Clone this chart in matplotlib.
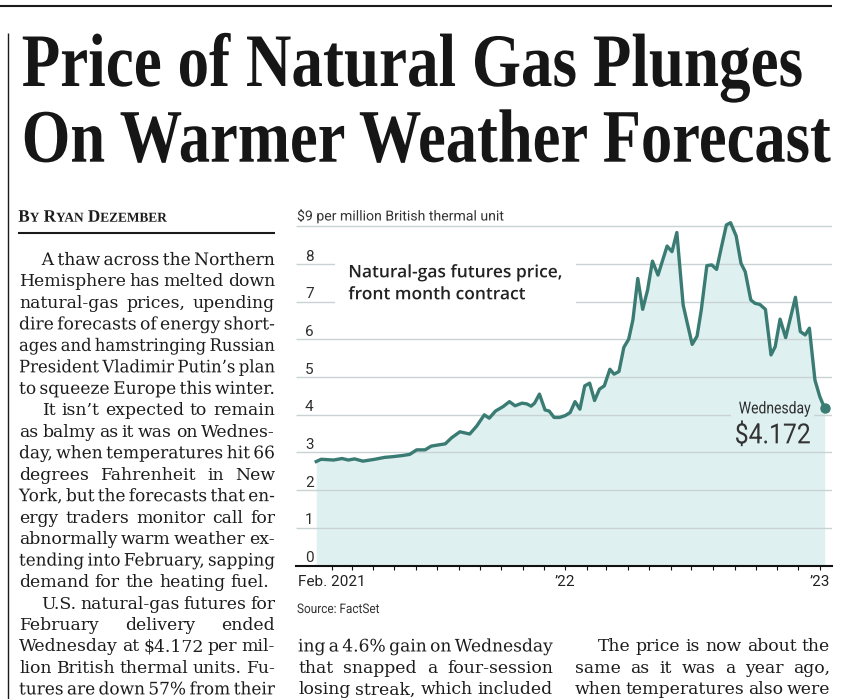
import matplotlib
matplotlib.use('Agg')
import matplotlib.pyplot as plt
from matplotlib import patheffects, transforms
from matplotlib.transforms import Affine2D, Bbox
from matplotlib.patches import Rectangle
import pandas as pd

plt.rcParams['text.parse_math'] = False

# weekly front-month closes
dates = pd.to_datetime([
    '2021-01-09', '2021-01-16', '2021-02-03', '2021-02-15', '2021-02-24', '2021-03-05',
    '2021-03-17', '2021-04-03', '2021-04-17', '2021-04-29', '2021-05-13', '2021-05-23',
    '2021-06-02', '2021-06-14', '2021-06-23', '2021-07-13', '2021-07-22', '2021-08-03',
    '2021-08-17', '2021-08-27', '2021-09-07', '2021-09-14', '2021-09-23', '2021-10-04',
    '2021-10-13', '2021-10-21', '2021-10-31', '2021-11-07', '2021-11-13', '2021-11-18',
    '2021-11-25', '2021-12-03', '2021-12-09', '2021-12-16', '2021-12-24', '2022-01-01',
    '2022-01-08', '2022-01-15', '2022-01-22', '2022-01-29', '2022-02-05', '2022-02-12',
    '2022-02-19', '2022-02-26', '2022-03-06', '2022-03-12', '2022-03-19', '2022-03-26',
    '2022-04-02', '2022-04-08', '2022-04-15', '2022-04-22', '2022-04-29', '2022-05-06',
    '2022-05-14', '2022-05-27', '2022-06-03', '2022-06-10', '2022-06-19', '2022-06-25',
    '2022-07-02', '2022-07-09', '2022-07-15', '2022-07-23', '2022-07-30', '2022-08-06',
    '2022-08-13', '2022-08-20', '2022-08-26', '2022-09-03', '2022-09-10', '2022-09-16',
    '2022-09-24', '2022-09-30', '2022-10-07', '2022-10-15', '2022-10-23', '2022-10-29',
    '2022-11-05', '2022-11-13', '2022-11-27', '2022-12-04', '2022-12-11', '2022-12-17',
    '2022-12-25', '2023-01-01', '2023-01-08',
])
prices = [
    2.76, 2.82, 2.80, 2.84, 2.80, 2.83,
    2.77, 2.82, 2.87, 2.89, 2.92, 2.95,
    3.07, 3.07, 3.17, 3.23, 3.39, 3.55,
    3.49, 3.70, 4.00, 3.91, 4.10, 4.22,
    4.35, 4.24, 4.31, 4.29, 4.23, 4.31,
    4.55, 4.13, 4.10, 3.93, 3.93, 3.98,
    4.06, 4.35, 4.15, 4.77, 4.84, 4.38,
    4.68, 4.77, 5.21, 5.08, 5.15, 5.79,
    6.01, 6.52, 7.62, 6.80, 7.31, 8.08,
    7.71, 8.48, 8.33, 8.84, 6.92, 6.43,
    5.87, 6.09, 6.78, 7.96, 7.98, 7.86,
    8.46, 9.04, 9.10, 8.75, 8.02, 7.80,
    7.05, 6.96, 6.93, 6.80, 5.59, 5.81,
    6.54, 6.05, 7.12, 6.21, 6.12, 6.30,
    4.92, 4.48, 4.172,
]
y_levels = [0, 1, 2, 3, 4, 5, 6, 7, 8]
tick_months = pd.date_range('2021-02-01', '2023-01-01', freq='MS')
label_dates = pd.to_datetime(['2021-02-01', '2022-01-01', '2023-01-01'])
label_text = ['Feb. 2021', '\u201922', '\u201923']

headline = ['Price of Natural Gas Plunges', 'On Warmer Weather Forecast']
byline = [('B', 1), ('Y', 0.78), (' ', 1), ('R', 1), ('YAN', 0.78), (' ', 1), ('D', 1), ('EZEMBER', 0.78)]

# (text, indented, justified)
col1 = [
    ('A thaw across the Northern', True, True),
    ('Hemisphere has melted down', False, True),
    ('natural-gas prices, upending', False, True),
    ('dire forecasts of energy short-', False, True),
    ('ages and hamstringing Russian', False, True),
    ('President Vladimir Putin\u2019s plan', False, True),
    ('to squeeze Europe this winter.', False, True),
    ('It isn\u2019t expected to remain', True, True),
    ('as balmy as it was on Wednes-', False, True),
    ('day, when temperatures hit 66', False, True),
    ('degrees Fahrenheit in New', False, True),
    ('York, but the forecasts that en-', False, True),
    ('ergy traders monitor call for', False, True),
    ('abnormally warm weather ex-', False, True),
    ('tending into February, sapping', False, True),
    ('demand for the heating fuel.', False, False),
    ('U.S. natural-gas futures for', True, True),
    ('February delivery ended', False, True),
    ('Wednesday at $4.172 per mil-', False, True),
    ('lion British thermal units. Fu-', False, True),
    ('tures are down 57% from their', False, True),
]
col2 = [
    ('ing a 4.6% gain on Wednesday', False, True),
    ('that snapped a four-session', False, True),
    ('losing streak, which included', False, True),
]
col3 = [
    ('The price is now about the', True, True),
    ('same as it was a year ago,', False, True),
    ('when temperatures also were', False, True),
]

LINE = '#3a7c73'
FILL = '#dff0f1'
GRID = '#c9d3d5'
INK = '#1c1c1c'
LABEL = '#2e2e2e'
SANS = 'Roboto'
SERIF = 'DejaVu Serif'


class Squeeze(patheffects.AbstractPathEffect):
    """scale glyphs around the text origin"""
    def __init__(self, sx, sy=1.0):
        super().__init__()
        self.sx = sx
        self.sy = sy

    def draw_path(self, renderer, gc, tpath, affine, rgbFace=None):
        renderer.draw_path(gc, tpath, Affine2D().scale(self.sx, self.sy) + affine, rgbFace)


W, H = 843, 699
fig = plt.figure(figsize=(W / 100, H / 100), dpi=100)
fig.patch.set_facecolor('white')
renderer = fig.canvas.get_renderer()

# page axes in pixel units
page = fig.add_axes([0, 0, 1, 1], zorder=0)
page.set_xlim(0, W)
page.set_ylim(H, 0)
page.axis('off')


def width_of(t):
    return t.get_window_extent(renderer).width


def squeeze(t, sx):
    t.set_path_effects([Squeeze(sx)])
    orig = t.get_window_extent

    def extent(renderer=None, dpi=None):
        bb = orig(renderer, dpi)
        return Bbox.from_extents(bb.x0, bb.y0, bb.x0 + bb.width * sx, bb.y1)
    t.get_window_extent = extent


def fit(t, target):
    sx = target / width_of(t)
    squeeze(t, sx)
    return sx


# rules
page.plot([0, 831.7], [5.7, 5.7], color='#1a1a1a', lw=1.5, solid_capstyle='butt')
page.plot([8.3, 8.3], [33.3, H], color='#1a1a1a', lw=1.0, solid_capstyle='butt')
page.plot([18.3, 275], [233.3, 233.3], color='#1a1a1a', lw=1.5, solid_capstyle='butt')

# headline: size set by the width, glyphs stretched up to the cap height
HEAD_PT = 54.4
for line, base, right in zip(headline, [86, 161.7], [803, 830.7]):
    t = page.text(21.7, base, line, fontfamily='Liberation Serif', fontweight='bold',
                  fontsize=HEAD_PT, color='#161616', va='baseline', ha='left')
    k = (right - 21.7) / width_of(t)
    t.set_fontsize(HEAD_PT * k)
    t.set_path_effects([Squeeze(1.0, 1.0 / k)])

# byline in small caps
bx = 18.3
runs = []
gap_probe = [page.text(0, 0, s, fontfamily='Liberation Serif', fontweight='bold', fontsize=12.6)
             for s in ('n n', 'nn')]
space_w = width_of(gap_probe[0]) - width_of(gap_probe[1])
for p in gap_probe:
    p.remove()
x = 0
for s, k in byline:
    if s == ' ':
        x += space_w
        continue
    t = page.text(0, 221.7, s, fontfamily='Liberation Serif', fontweight='bold',
                  fontsize=12.6 * k, color=INK, va='baseline', ha='left')
    runs.append((t, x))
    x += width_of(t)
sx = 148.4 / x
for t, off in runs:
    t.set_x(bx + off * sx)
    squeeze(t, sx)

# body text, justified word by word
BODY_PT = 12.4
probe = [page.text(0, 0, s, fontfamily=SERIF, fontsize=BODY_PT) for s in ('n n', 'nn')]
body_space = width_of(probe[0]) - width_of(probe[1])
for p in probe:
    p.remove()

STEP = 21.47


def set_column(lines, left, right, first_base, step=STEP, indent=22.7):
    for i, (txt, ind, just) in enumerate(lines):
        base = first_base + i * step
        words = txt.split(' ')
        ts = [page.text(0, base, w, fontfamily=SERIF, fontsize=BODY_PT, color=INK,
                        va='baseline', ha='left') for w in words]
        ws = [width_of(t) for t in ts]
        x0 = left + (indent if ind else 0)
        avail = right - x0
        gap = body_space
        scale = 1.0
        if just and len(ts) > 1:
            gap = (avail - sum(ws)) / (len(ts) - 1)
            if gap < 0.6 * body_space:
                gap = 0.6 * body_space
                scale = (avail - gap * (len(ts) - 1)) / sum(ws)
        x = x0
        for t, w in zip(ts, ws):
            t.set_x(x)
            if scale != 1.0:
                squeeze(t, scale)
            x += w * scale + gap


set_column(col1, 19, 275, 265)
set_column(col2, 298, 553, 265 + 18 * STEP)
set_column(col3, 575, 830, 265 + 18 * STEP)

# chart
PX_PER_UNIT = 37.67
y_zero = 565.5
y_top = 9.3
ax = fig.add_axes([296 / W, 1 - y_zero / H, (831.7 - 296) / W, y_top * PX_PER_UNIT / H], zorder=1)
ax.set_facecolor('none')
x0, x1 = pd.Timestamp('2020-12-11'), pd.Timestamp('2023-01-18')
ax.set_xlim(x0, x1)
ax.set_ylim(0, y_top)
for side in ('left', 'right', 'top'):
    ax.spines[side].set_visible(False)
ax.spines['bottom'].set_linewidth(1.5)
ax.spines['bottom'].set_color('#111111')
ax.spines['bottom'].set_zorder(6)

ax.fill_between(dates, prices, 0, color=FILL, lw=0, zorder=1)
ax.hlines(y_levels[1:] + [9], x0, x1, color=GRID, lw=1.0, zorder=2)

# masks behind the labels
ax.add_patch(Rectangle((335, 250), 241, 60, transform=page.transData,
                       facecolor='white', edgecolor='none', zorder=2.5))
ax.add_patch(Rectangle((731, 397), 83, 51, transform=page.transData,
                       facecolor=FILL, edgecolor='none', zorder=2.5))

ax.plot(dates, prices, color=LINE, lw=2.4, solid_joinstyle='round', zorder=4)
ax.plot(dates[-1:], prices[-1:], 'o', color=LINE, ms=6.5, zorder=5, clip_on=False)

ax.set_yticks([])
ax.set_xticks(tick_months, minor=True)
ax.set_xticks(label_dates)
ax.set_xticklabels(label_text, fontfamily=SANS, fontsize=11, color='#222222')
ax.tick_params(axis='x', which='both', length=3, width=0.8, color='#111111', pad=3.5)

ylab_tr = transforms.offset_copy(ax.get_yaxis_transform(), fig=fig, x=9, y=3.5, units='dots')
for v in y_levels:
    ax.text(0, v, str(v), transform=ylab_tr, fontfamily=SANS,
            fontsize=11, color=LABEL, va='baseline', ha='left', zorder=3)

t = ax.annotate('Wednesday', xy=(dates[-1], prices[-1]), xytext=(-86, -5),
                textcoords='offset pixels', fontfamily=SANS,
                fontsize=11.8, color=LABEL, va='baseline', ha='left', zorder=3)
fit(t, 72)
t = ax.annotate('$4.172', xy=(dates[-1], prices[-1]), xytext=(-90, -35),
                textcoords='offset pixels', fontfamily=SANS,
                fontsize=20, color='#333333', va='baseline', ha='left', zorder=3)
fit(t, 76)

t1 = ax.text(348.3, 277.3, 'Natural-gas futures price,', transform=page.transData,
             fontfamily='Open Sans', fontweight='semibold', fontsize=12.4, color='#222222',
             va='baseline', ha='left', zorder=3)
sx = fit(t1, 215)
t2 = ax.text(348.3, 299.3, 'front month contract', transform=page.transData,
             fontfamily='Open Sans', fontweight='semibold', fontsize=12.4, color='#222222',
             va='baseline', ha='left', zorder=3)
squeeze(t2, sx)

t = page.text(297, 220.5, '$9 per million British thermal unit', fontfamily=SANS,
              fontsize=10, color='#333333', va='baseline', ha='left')
fit(t, 207)
t = page.text(297, 613, 'Source: FactSet', fontfamily=SANS, fontsize=9.5,
              color='#333333', va='baseline', ha='left')
fit(t, 83)

fig.savefig('out.png', dpi=100, facecolor='white')
